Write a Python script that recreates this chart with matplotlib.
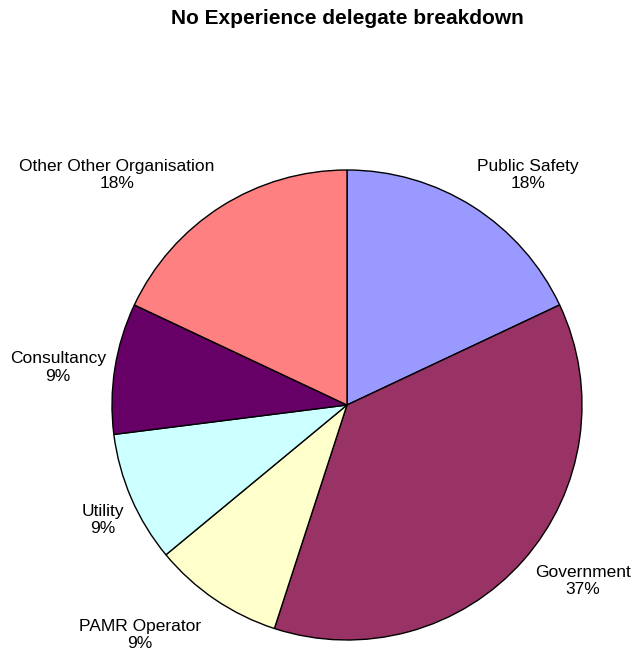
import matplotlib
matplotlib.use("Agg")
import matplotlib.pyplot as plt
import numpy as np

plt.rcParams['font.family'] = ['Liberation Sans', 'DejaVu Sans']

categories = ["Public Safety", "Government", "PAMR Operator", "Utility",
              "Consultancy", "Other Other Organisation"]
shares = [18, 37, 9, 9, 9, 18]
colors = ["#9999FF", "#993366", "#FFFFCC", "#CCFFFF", "#660066", "#FF8080"]

# label centres in units of pie radius (Excel style placement)
label_pos = [(0.77, 0.98), (1.005, -0.75), (-0.88, -0.98),
             (-1.04, -0.49), (-1.23, 0.16), (-0.98, 0.98)]

fig = plt.figure(figsize=(6.33, 6.57), dpi=100)
# pie centre ~ (347, 405) px, radius ~ 235 px
R = 235
ax = fig.add_axes([(347 - R) / 633, 1 - (405 + R) / 657, 2 * R / 633, 2 * R / 657])
wedges, _ = ax.pie(shares, colors=colors, startangle=90, counterclock=False,
                   radius=1, wedgeprops=dict(edgecolor="black", linewidth=1))
ax.set_xlim(-1, 1)
ax.set_ylim(-1, 1)
ax.set_aspect("equal")
ax.axis("off")

for name, val, (lx, ly) in zip(categories, shares, label_pos):
    ax.text(lx, ly, f"{name}\n{val}%", ha="center", va="center",
            multialignment="center", fontsize=12.5, clip_on=False)

fig.text(347 / 633, 1 - 18 / 657, "No Experience delegate breakdown",
         ha="center", va="center", fontsize=15, fontweight="bold")

fig.savefig("out.png", dpi=100)
